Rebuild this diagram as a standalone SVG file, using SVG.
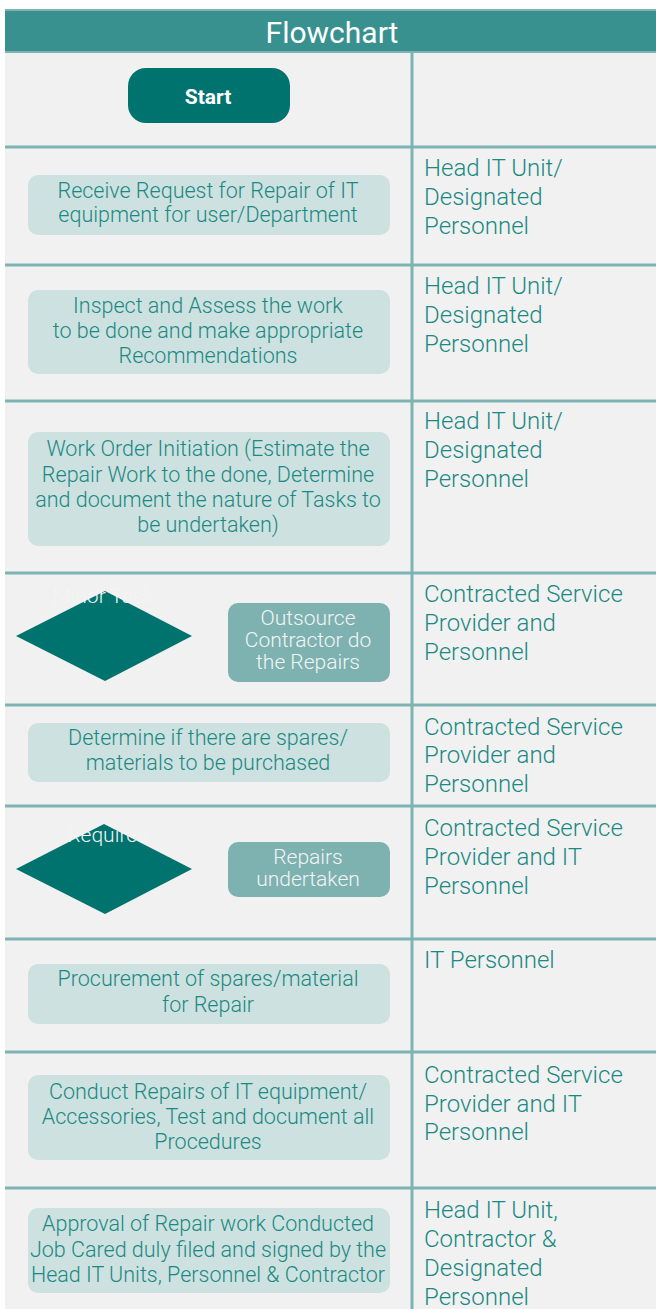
<svg xmlns="http://www.w3.org/2000/svg" width="656" height="1309" viewBox="0 0 656 1309">
<style>
.bg{fill:#f1f1f1}
.grid{stroke:#7fb3b3;stroke-width:3;fill:none}
.box{fill:#cde1e0}
.boxd{fill:#7db2b1}
.dark{fill:#00736f}
.t{font-family:Roboto,"Liberation Sans",sans-serif;font-weight:300;font-size:21.5px;fill:#1b8983;text-anchor:middle}
.tw{font-family:Roboto,"Liberation Sans",sans-serif;font-weight:300;font-size:21px;fill:#f4f4f4;text-anchor:middle}
.r{font-family:Roboto,"Liberation Sans",sans-serif;font-weight:300;font-size:24px;fill:#1b8983}
</style>
<rect x="0" y="0" width="656" height="1309" fill="#ffffff"/>
<rect class="bg" x="5" y="52" width="651" height="1257"/>
<g id="header">
<rect x="5" y="9" width="651" height="44" fill="#38918f"/>
<line x1="5" y1="10" x2="656" y2="10" stroke="#7fb3b3" stroke-width="2"/>
<line x1="5" y1="52" x2="656" y2="52" stroke="#7fb3b3" stroke-width="2"/>
<text x="332" y="43" font-family="Roboto,'Liberation Sans',sans-serif" font-size="30" fill="#ffffff" text-anchor="middle">Flowchart</text>
</g>
<g id="grid">
<line class="grid" x1="412" y1="53" x2="412" y2="1309"/>
<line class="grid" x1="5" y1="147" x2="656" y2="147"/>
<line class="grid" x1="5" y1="265" x2="656" y2="265"/>
<line class="grid" x1="5" y1="401" x2="656" y2="401"/>
<line class="grid" x1="5" y1="573" x2="656" y2="573"/>
<line class="grid" x1="5" y1="705" x2="656" y2="705"/>
<line class="grid" x1="5" y1="806" x2="656" y2="806"/>
<line class="grid" x1="5" y1="939" x2="656" y2="939"/>
<line class="grid" x1="5" y1="1052" x2="656" y2="1052"/>
<line class="grid" x1="5" y1="1188" x2="656" y2="1188"/>
</g>
<g id="connectors"></g>
<g id="start">
<rect class="dark" x="128" y="68" width="162" height="55" rx="18"/>
<text x="208" y="104" font-family="Roboto,'Liberation Sans',sans-serif" font-weight="bold" font-size="21" fill="#ffffff" text-anchor="middle">Start</text>
</g>
<g id="receive">
<rect class="box" x="28" y="175" width="362" height="60" rx="10"/>
<text class="t" x="208" y="198">Receive Request for Repair of IT</text>
<text class="t" x="208" y="222">equipment for user/Department</text>
</g>
<g id="role1">
<text class="r" x="424" y="176">Head IT Unit/</text>
<text class="r" x="424" y="205">Designated</text>
<text class="r" x="424" y="234">Personnel</text>
</g>
<g id="inspect">
<rect class="box" x="28" y="290" width="362" height="84" rx="10"/>
<text class="t" x="208" y="313">Inspect and Assess the work</text>
<text class="t" x="208" y="338">to be done and make appropriate</text>
<text class="t" x="208" y="363">Recommendations</text>
</g>
<g id="role2">
<text class="r" x="424" y="294">Head IT Unit/</text>
<text class="r" x="424" y="323">Designated</text>
<text class="r" x="424" y="352">Personnel</text>
</g>
<g id="workorder">
<rect class="box" x="28" y="432" width="362" height="114" rx="10"/>
<text class="t" x="208" y="456">Work Order Initiation (Estimate the</text>
<text class="t" x="208" y="482">Repair Work to the done, Determine</text>
<text class="t" x="208" y="507">and document the nature of Tasks to</text>
<text class="t" x="208" y="532">be undertaken)</text>
</g>
<g id="role3">
<text class="r" x="424" y="429">Head IT Unit/</text>
<text class="r" x="424" y="458">Designated</text>
<text class="r" x="424" y="487">Personnel</text>
</g>
<g id="minor">
<polygon class="dark" points="16,636 105,591 192,636 105,681"/>
<text class="tw" x="108" y="603">Minor Task?</text>
</g>
<g id="outsource">
<rect class="boxd" x="228" y="603" width="162" height="79" rx="10"/>
<text class="tw" x="308" y="625">Outsource</text>
<text class="tw" x="308" y="647">Contractor do</text>
<text class="tw" x="308" y="669">the Repairs</text>
</g>
<g id="role4">
<text class="r" x="424" y="602">Contracted Service</text>
<text class="r" x="424" y="631">Provider and</text>
<text class="r" x="424" y="660">Personnel</text>
</g>
<g id="spares">
<rect class="box" x="28" y="723" width="362" height="59" rx="10"/>
<text class="t" x="208" y="745">Determine if there are spares/</text>
<text class="t" x="208" y="770">materials to be purchased</text>
</g>
<g id="role5">
<text class="r" x="424" y="735">Contracted Service</text>
<text class="r" x="424" y="763">Provider and</text>
<text class="r" x="424" y="792">Personnel</text>
</g>
<g id="required">
<polygon class="dark" points="16,869 104,824 192,869 105,914"/>
<text class="tw" x="108" y="842">Required</text>
</g>
<g id="repairs">
<rect class="boxd" x="228" y="842" width="162" height="55" rx="10"/>
<text class="tw" x="308" y="864">Repairs</text>
<text class="tw" x="308" y="886">undertaken</text>
</g>
<g id="role6">
<text class="r" x="424" y="836">Contracted Service</text>
<text class="r" x="424" y="865">Provider and IT</text>
<text class="r" x="424" y="894">Personnel</text>
</g>
<g id="procure">
<rect class="box" x="28" y="964" width="362" height="60" rx="10"/>
<text class="t" x="208" y="986">Procurement of spares/material</text>
<text class="t" x="208" y="1012">for Repair</text>
</g>
<g id="role7">
<text class="r" x="424" y="968">IT Personnel</text>
</g>
<g id="conduct">
<rect class="box" x="28" y="1075" width="362" height="85" rx="10"/>
<text class="t" x="208" y="1099">Conduct Repairs of IT equipment/</text>
<text class="t" x="208" y="1124">Accessories, Test and document all</text>
<text class="t" x="208" y="1149">Procedures</text>
</g>
<g id="role8">
<text class="r" x="424" y="1083">Contracted Service</text>
<text class="r" x="424" y="1112">Provider and IT</text>
<text class="r" x="424" y="1140">Personnel</text>
</g>
<g id="approval">
<rect class="box" x="28" y="1208" width="362" height="85" rx="10"/>
<text class="t" x="208" y="1231">Approval of Repair work Conducted</text>
<text class="t" x="208" y="1257">Job Cared duly filed and signed by the</text>
<text class="t" x="208" y="1282">Head IT Units, Personnel &amp; Contractor</text>
</g>
<g id="role9">
<text class="r" x="424" y="1218">Head IT Unit,</text>
<text class="r" x="424" y="1247">Contractor &amp;</text>
<text class="r" x="424" y="1276">Designated</text>
<text class="r" x="424" y="1305">Personnel</text>
</g>
</svg>
